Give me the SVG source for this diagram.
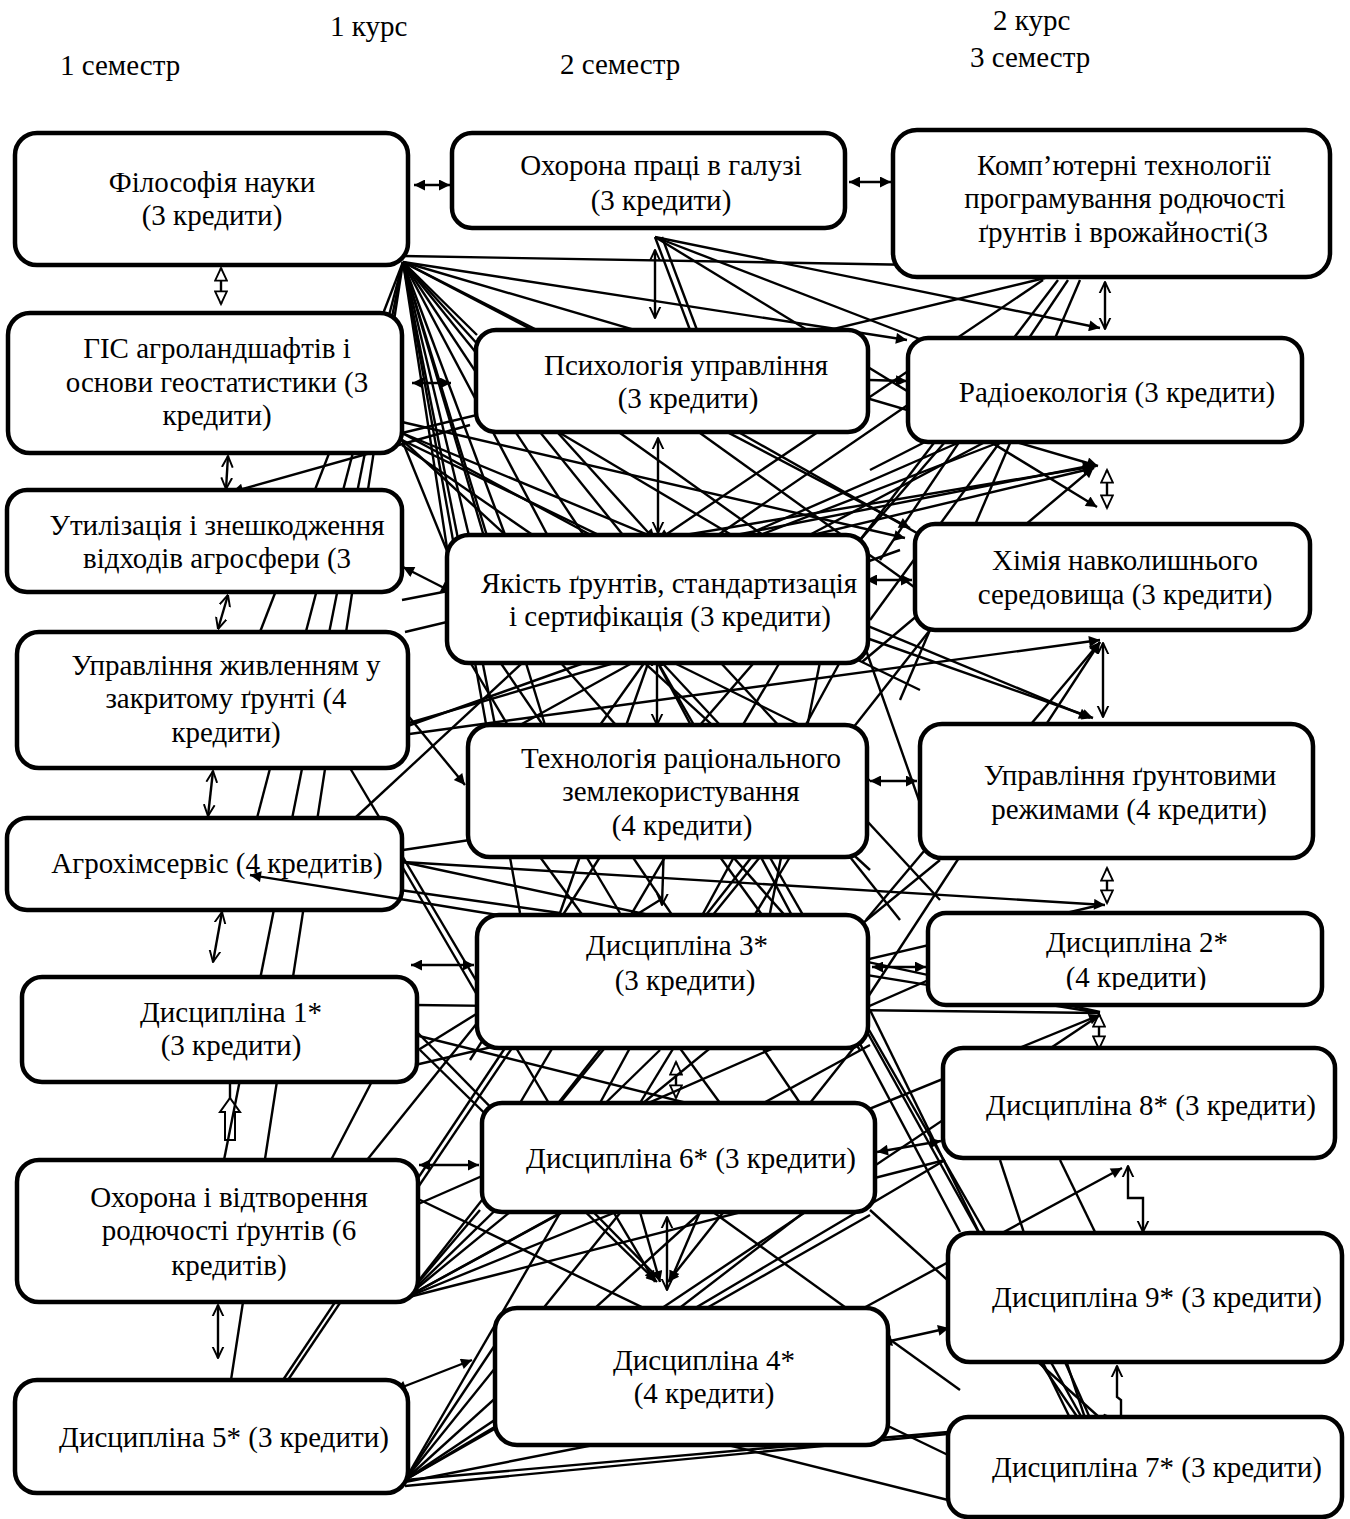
<svg xmlns="http://www.w3.org/2000/svg" width="1350" height="1519" viewBox="0 0 1350 1519">
<defs>
<marker id="fa" viewBox="0 0 10 10" refX="10" refY="5" markerWidth="15" markerHeight="11" markerUnits="userSpaceOnUse" orient="auto-start-reverse"><path d="M0,0 L10,5 L0,10 z" fill="#000"/></marker>
<marker id="oa" viewBox="0 0 10 10" refX="9.5" refY="5" markerWidth="12" markerHeight="14" markerUnits="userSpaceOnUse" orient="auto-start-reverse"><path d="M0,0.5 L9.5,5 L0,9.5" fill="none" stroke="#000" stroke-width="1.6"/></marker>
<marker id="ha" viewBox="0 0 10 10" refX="9.5" refY="5" markerWidth="18" markerHeight="14" markerUnits="userSpaceOnUse" orient="auto-start-reverse"><path d="M0.5,0.8 L9.5,5 L0.5,9.2 z" fill="#fff" stroke="#000" stroke-width="1.3"/></marker>
<clipPath id="clipD2"><rect x="928" y="913" width="394" height="77"/></clipPath>
</defs>
<style>
.n rect{fill:#fff;stroke:#000;stroke-width:4.5}
text{font-family:"Liberation Serif","Times New Roman",serif;font-size:29px;fill:#000}
.n text{text-anchor:middle}
#connectors line,#connectors path,#connectors-top line{stroke:#000;stroke-width:2.4;fill:none}
.a{marker-end:url(#fa)}
.dd{marker-start:url(#fa);marker-end:url(#fa)}
.oo{marker-start:url(#oa);marker-end:url(#oa)}
.hh{marker-start:url(#ha);marker-end:url(#ha)}
</style>
<rect width="1350" height="1519" fill="#fff"/>
<g id="headers">
<text x="330" y="36">1 курс</text>
<text x="60" y="75">1 семестр</text>
<text x="560" y="74">2 семестр</text>
<text x="993" y="30">2 курс</text>
<text x="970" y="67">3 семестр</text>
</g>
<g id="connectors">
<!-- horizontal double arrows -->
<line x1="414" y1="185" x2="450" y2="185" class="dd"/>
<line x1="849" y1="182" x2="891" y2="182" class="dd"/>
<line x1="412" y1="383" x2="451" y2="383" class="dd"/>
<line x1="869" y1="380" x2="907" y2="381" class="a"/>
<line x1="866" y1="580" x2="912" y2="580" class="dd"/>
<line x1="870" y1="781" x2="917" y2="781" class="dd"/>
<line x1="872" y1="967" x2="926" y2="967" class="dd"/>
<line x1="411" y1="965" x2="474" y2="965" class="dd"/>
<line x1="419" y1="1165" x2="479" y2="1165" class="dd"/>
<line x1="877" y1="1152" x2="941" y2="1141" class="dd"/>
<line x1="881" y1="1343" x2="949" y2="1328" class="dd"/>
<line x1="395" y1="1390" x2="472" y2="1360" class="dd"/>
<line x1="403" y1="567" x2="452" y2="592" class="dd"/>
<!-- vertical links -->
<line x1="221" y1="268" x2="221" y2="304" class="hh"/>
<line x1="228" y1="456" x2="226" y2="489" class="oo"/>
<line x1="228" y1="595" x2="218" y2="629" class="oo"/>
<line x1="213" y1="771" x2="208" y2="816" class="oo"/>
<line x1="222" y1="912" x2="213" y2="962" class="oo"/>
<line x1="230" y1="1100" x2="230" y2="1069" style="marker-end:url(#oa)"/>
<path d="M225,1140 L235,1140 L235,1112 L240,1112 L230,1098 L220,1112 L225,1112 Z" style="stroke-width:2;fill:#fff"/>
<line x1="218" y1="1305" x2="218" y2="1358" class="oo"/>
<line x1="655" y1="250" x2="655" y2="318" class="oo"/>
<line x1="658" y1="438" x2="658" y2="533" class="oo"/>
<line x1="657" y1="655" x2="657" y2="725" class="oo"/>
<line x1="664" y1="843" x2="662" y2="905" class="oo"/>
<line x1="676" y1="1062" x2="676" y2="1098" class="hh"/>
<line x1="667" y1="1217" x2="667" y2="1290" class="oo"/>
<line x1="1105" y1="282" x2="1105" y2="329" class="oo"/>
<line x1="1107" y1="470" x2="1107" y2="508" class="hh"/>
<line x1="1103" y1="643" x2="1103" y2="717" class="oo"/>
<line x1="1107" y1="868" x2="1107" y2="903" class="hh"/>
<line x1="1099" y1="1014" x2="1099" y2="1049" class="hh"/>
<path d="M1128,1166 L1128,1198 L1143,1198 L1143,1232" class="oo"/>
<path d="M1117,1366 L1117,1397 L1121,1400 L1121,1428" class="oo"/>
<!-- fan from Філософія -->
<line x1="403" y1="256" x2="1092" y2="268" class="a"/>
<line x1="403" y1="262" x2="907" y2="340" class="a"/>
<line x1="403" y1="262" x2="910" y2="528" class="a"/>
<line x1="403" y1="262" x2="655" y2="540" class="a"/>
<line x1="403" y1="262" x2="1098" y2="466" class="a"/>
<line x1="403" y1="262" x2="477" y2="335"/>
<line x1="403" y1="262" x2="537" y2="330"/>
<line x1="403" y1="262" x2="470" y2="540"/>
<line x1="403" y1="262" x2="485" y2="540"/>
<line x1="403" y1="262" x2="507" y2="540"/>
<line x1="403" y1="262" x2="550" y2="540"/>
<line x1="403" y1="262" x2="587" y2="540"/>
<line x1="403" y1="262" x2="627" y2="540"/>
<line x1="403" y1="262" x2="455" y2="600"/>
<line x1="403" y1="262" x2="495" y2="725"/>
<line x1="403" y1="262" x2="545" y2="725"/>
<line x1="403" y1="262" x2="520" y2="913"/>
<line x1="403" y1="262" x2="231" y2="1380"/>
<line x1="403" y1="262" x2="224" y2="1160"/>
<line x1="403" y1="262" x2="257" y2="818"/>
<line x1="403" y1="262" x2="260" y2="632"/>
<!-- from Охорона праці -->
<line x1="655" y1="237" x2="1100" y2="328" class="a"/>
<line x1="655" y1="237" x2="935" y2="345"/>
<line x1="655" y1="237" x2="690" y2="330"/>
<line x1="662" y1="237" x2="697" y2="330"/>
<line x1="655" y1="237" x2="1097" y2="507" class="a"/>
<!-- from ГІС -->
<line x1="402" y1="433" x2="1045" y2="278"/>
<line x1="402" y1="422" x2="905" y2="538" class="a"/>
<line x1="402" y1="433" x2="600" y2="540"/>
<line x1="470" y1="425" x2="232" y2="492" class="a"/>
<line x1="402" y1="433" x2="1090" y2="718" class="a"/>
<line x1="402" y1="440" x2="920" y2="690"/>
<line x1="402" y1="445" x2="540" y2="540"/>
<line x1="402" y1="440" x2="475" y2="620"/>
<line x1="402" y1="440" x2="870" y2="870"/>
<!-- from Комп'ютерні технології -->
<line x1="1043" y1="280" x2="658" y2="540" class="a"/>
<line x1="1058" y1="280" x2="860" y2="540"/>
<line x1="1068" y1="280" x2="880" y2="560"/>
<line x1="1080" y1="280" x2="900" y2="700"/>
<line x1="945" y1="442" x2="700" y2="725"/>
<line x1="925" y1="442" x2="870" y2="470"/>
<line x1="1000" y1="442" x2="870" y2="620"/>
<line x1="960" y1="442" x2="735" y2="540"/>
<line x1="985" y1="442" x2="800" y2="540"/>
<!-- into hub above Хімія -->
<line x1="402" y1="600" x2="1094" y2="465" class="a"/>
<line x1="405" y1="632" x2="1094" y2="468" class="a"/>
<line x1="862" y1="662" x2="1094" y2="467" class="a"/>
<line x1="655" y1="540" x2="1096" y2="466" class="a"/>
<line x1="718" y1="535" x2="915" y2="400"/>
<line x1="760" y1="535" x2="1000" y2="442"/>
<line x1="700" y1="433" x2="960" y2="620"/>
<line x1="740" y1="433" x2="1000" y2="580"/>
<line x1="560" y1="433" x2="740" y2="540"/>
<line x1="620" y1="433" x2="770" y2="540"/>
<!-- hub below Якість -->
<line x1="402" y1="725" x2="652" y2="652" class="a"/>
<line x1="652" y1="652" x2="520" y2="725"/>
<line x1="652" y1="652" x2="600" y2="725"/>
<line x1="652" y1="652" x2="560" y2="913"/>
<line x1="652" y1="652" x2="960" y2="1232"/>
<line x1="652" y1="652" x2="985" y2="1232"/>
<line x1="652" y1="652" x2="720" y2="725"/>
<line x1="652" y1="652" x2="800" y2="725"/>
<line x1="858" y1="635" x2="1093" y2="718" class="a"/>
<line x1="866" y1="650" x2="940" y2="860"/>
<line x1="402" y1="735" x2="1100" y2="640" class="a"/>
<line x1="866" y1="920" x2="1100" y2="642" class="a"/>
<line x1="866" y1="1000" x2="1100" y2="642" class="a"/>
<line x1="388" y1="733" x2="900" y2="550"/>
<line x1="500" y1="662" x2="800" y2="1103"/>
<line x1="780" y1="662" x2="520" y2="1103"/>
<line x1="840" y1="662" x2="600" y2="1103"/>
<line x1="560" y1="662" x2="860" y2="1000"/>
<line x1="720" y1="662" x2="940" y2="900"/>
<line x1="470" y1="662" x2="620" y2="913"/>
<line x1="820" y1="662" x2="770" y2="913"/>
<!-- from Управління живленням -->
<line x1="405" y1="712" x2="465" y2="785" class="a"/>
<line x1="350" y1="768" x2="655" y2="1282" class="a"/>
<line x1="355" y1="818" x2="655" y2="540"/>
<!-- from Агрохімсервіс -->
<line x1="403" y1="862" x2="1105" y2="905" class="a"/>
<line x1="403" y1="862" x2="1100" y2="1012"/>
<line x1="403" y1="868" x2="480" y2="1000"/>
<line x1="403" y1="850" x2="870" y2="780"/>
<line x1="400" y1="890" x2="560" y2="913"/>
<line x1="1100" y1="1013" x2="400" y2="899"/>
<line x1="540" y1="857" x2="720" y2="1103"/>
<line x1="600" y1="857" x2="470" y2="1060"/>
<line x1="720" y1="857" x2="860" y2="1050"/>
<line x1="790" y1="857" x2="640" y2="1103"/>
<line x1="850" y1="857" x2="900" y2="920"/>
<line x1="760" y1="857" x2="560" y2="1103"/>
<!-- from Дисципліна 1* -->
<line x1="415" y1="1005" x2="1100" y2="1013"/>
<line x1="415" y1="1030" x2="660" y2="1280"/>
<line x1="415" y1="1035" x2="875" y2="1150"/>
<line x1="415" y1="1065" x2="1100" y2="905"/>
<line x1="415" y1="1052" x2="660" y2="900"/>
<line x1="330" y1="1162" x2="406" y2="1016" class="a"/>
<line x1="367" y1="1160" x2="560" y2="920"/>
<!-- from Охорона і відтворення -->
<line x1="405" y1="1298" x2="1100" y2="1015" class="a"/>
<line x1="405" y1="1298" x2="660" y2="1050"/>
<line x1="405" y1="1298" x2="870" y2="1045"/>
<line x1="405" y1="1298" x2="945" y2="1160"/>
<line x1="405" y1="1298" x2="560" y2="1213"/>
<line x1="405" y1="1298" x2="480" y2="1210"/>
<line x1="405" y1="1298" x2="930" y2="630"/>
<line x1="405" y1="1298" x2="940" y2="860"/>
<line x1="416" y1="1198" x2="948" y2="1455"/>
<line x1="416" y1="1205" x2="940" y2="975"/>
<line x1="505" y1="1048" x2="283" y2="1380"/>
<line x1="512" y1="1048" x2="288" y2="1380"/>
<!-- from Дисципліна 5* -->
<line x1="405" y1="1482" x2="660" y2="1432" class="a"/>
<line x1="405" y1="1486" x2="1115" y2="1418" class="a"/>
<line x1="405" y1="1480" x2="948" y2="1432"/>
<line x1="405" y1="1480" x2="495" y2="1345"/>
<line x1="405" y1="1480" x2="870" y2="1215"/>
<line x1="405" y1="1480" x2="560" y2="1213"/>
<line x1="405" y1="1480" x2="620" y2="1213"/>
<line x1="405" y1="1480" x2="700" y2="1213"/>
<line x1="405" y1="1480" x2="945" y2="1160"/>
<line x1="405" y1="1480" x2="1100" y2="1015"/>
<line x1="948" y1="1500" x2="680" y2="1433" class="a"/>
<!-- into Дисципліна 4* hub -->
<line x1="420" y1="1050" x2="657" y2="1282" class="a"/>
<line x1="860" y1="1040" x2="668" y2="1282" class="a"/>
<line x1="640" y1="1212" x2="660" y2="1282" class="a"/>
<line x1="700" y1="1212" x2="670" y2="1282" class="a"/>
<line x1="713" y1="1212" x2="960" y2="1390"/>
<line x1="803" y1="1213" x2="560" y2="1400"/>
<!-- into Дисципліна 7* hub -->
<line x1="870" y1="1210" x2="1100" y2="1418"/>
<line x1="1000" y1="1160" x2="1085" y2="1418"/>
<line x1="1060" y1="1160" x2="1095" y2="1232"/>
<line x1="1040" y1="1362" x2="1078" y2="1418"/>
<line x1="1065" y1="1362" x2="1090" y2="1418"/>
<line x1="870" y1="1010" x2="1070" y2="1418"/>
<line x1="866" y1="1030" x2="1082" y2="1418"/>
<line x1="860" y1="1310" x2="1122" y2="1168" class="a"/>
</g>
<g id="n1" class="n"><rect x="15" y="133" width="393" height="132" rx="22"/><text x="212" y="192">Філософія науки</text><text x="212" y="225">(3 кредити)</text></g>
<g id="n2" class="n"><rect x="8" y="313" width="394" height="140" rx="22"/><text x="217" y="358">ГІС агроландшафтів і</text><text x="217" y="392">основи геостатистики (3</text><text x="217" y="425">кредити)</text></g>
<g id="n3" class="n"><rect x="7" y="490" width="395" height="102" rx="20"/><text x="217" y="535">Утилізація і знешкодження</text><text x="217" y="568">відходів агросфери (3</text></g>
<g id="n4" class="n"><rect x="17" y="632" width="391" height="136" rx="22"/><text x="226" y="675">Управління живленням у</text><text x="226" y="708">закритому ґрунті (4</text><text x="226" y="742">кредити)</text></g>
<g id="n5" class="n"><rect x="7" y="818" width="395" height="92" rx="20"/><text x="217" y="873">Агрохімсервіс (4 кредитів)</text></g>
<g id="n6" class="n"><rect x="22" y="977" width="395" height="105" rx="20"/><text x="231" y="1022">Дисципліна 1*</text><text x="231" y="1055">(3 кредити)</text></g>
<g id="n7" class="n"><rect x="17" y="1160" width="401" height="142" rx="22"/><text x="229" y="1207">Охорона і відтворення</text><text x="229" y="1240">родючості ґрунтів (6</text><text x="229" y="1275">кредитів)</text></g>
<g id="n8" class="n"><rect x="15" y="1380" width="393" height="113" rx="22"/><text x="224" y="1447">Дисципліна 5* (3 кредити)</text></g>
<g id="n9" class="n"><rect x="452" y="133" width="393" height="95" rx="20"/><text x="661" y="175">Охорона праці в галузі</text><text x="661" y="210">(3 кредити)</text></g>
<g id="n10" class="n"><rect x="476" y="330" width="392" height="102" rx="20"/><text x="686" y="375">Психологія управління</text><text x="688" y="408">(3 кредити)</text></g>
<g id="n11" class="n"><rect x="447" y="535" width="421" height="128" rx="22"/><text x="669" y="593">Якість ґрунтів, стандартизація</text><text x="670" y="626">і сертифікація (3 кредити)</text></g>
<g id="n12" class="n"><rect x="468" y="725" width="399" height="132" rx="22"/><text x="681" y="768">Технологія раціонального</text><text x="681" y="801">землекористування</text><text x="682" y="835">(4 кредити)</text></g>
<g id="n13" class="n"><rect x="477" y="915" width="391" height="133" rx="22"/><text x="677" y="955">Дисципліна 3*</text><text x="685" y="990">(3 кредити)</text></g>
<g id="n14" class="n"><rect x="482" y="1103" width="393" height="109" rx="20"/><text x="691" y="1168">Дисципліна 6* (3 кредити)</text></g>
<g id="n15" class="n"><rect x="495" y="1308" width="393" height="137" rx="22"/><text x="704" y="1370">Дисципліна 4*</text><text x="704" y="1403">(4 кредити)</text></g>
<g id="n16" class="n"><rect x="893" y="130" width="437" height="147" rx="24"/><text x="1124" y="175">Комп’ютерні технології</text><text x="1125" y="208">програмування родючості</text><text x="1123" y="242">ґрунтів і врожайності(3</text></g>
<g id="n17" class="n"><rect x="908" y="338" width="394" height="104" rx="20"/><text x="1117" y="402">Радіоекологія (3 кредити)</text></g>
<g id="n18" class="n"><rect x="915" y="524" width="395" height="106" rx="20"/><text x="1125" y="570">Хімія навколишнього</text><text x="1125" y="604">середовища (3 кредити)</text></g>
<g id="n19" class="n"><rect x="920" y="724" width="393" height="134" rx="22"/><text x="1130" y="785">Управління ґрунтовими</text><text x="1129" y="819">режимами (4 кредити)</text></g>
<g id="n20" class="n"><rect x="928" y="913" width="394" height="92" rx="18"/><g clip-path="url(#clipD2)"><text x="1137" y="952">Дисципліна 2*</text><text x="1136" y="987">(4 кредити)</text></g></g>
<g id="n21" class="n"><rect x="943" y="1048" width="392" height="110" rx="20"/><text x="1151" y="1115">Дисципліна 8* (3 кредити)</text></g>
<g id="n22" class="n"><rect x="948" y="1233" width="394" height="129" rx="22"/><text x="1157" y="1307">Дисципліна 9* (3 кредити)</text></g>
<g id="n23" class="n"><rect x="948" y="1417" width="394" height="100" rx="20"/><text x="1157" y="1477">Дисципліна 7* (3 кредити)</text></g>
<g id="connectors-top">
<line x1="400" y1="899" x2="250" y2="875" class="a"/>
</g>
</svg>
